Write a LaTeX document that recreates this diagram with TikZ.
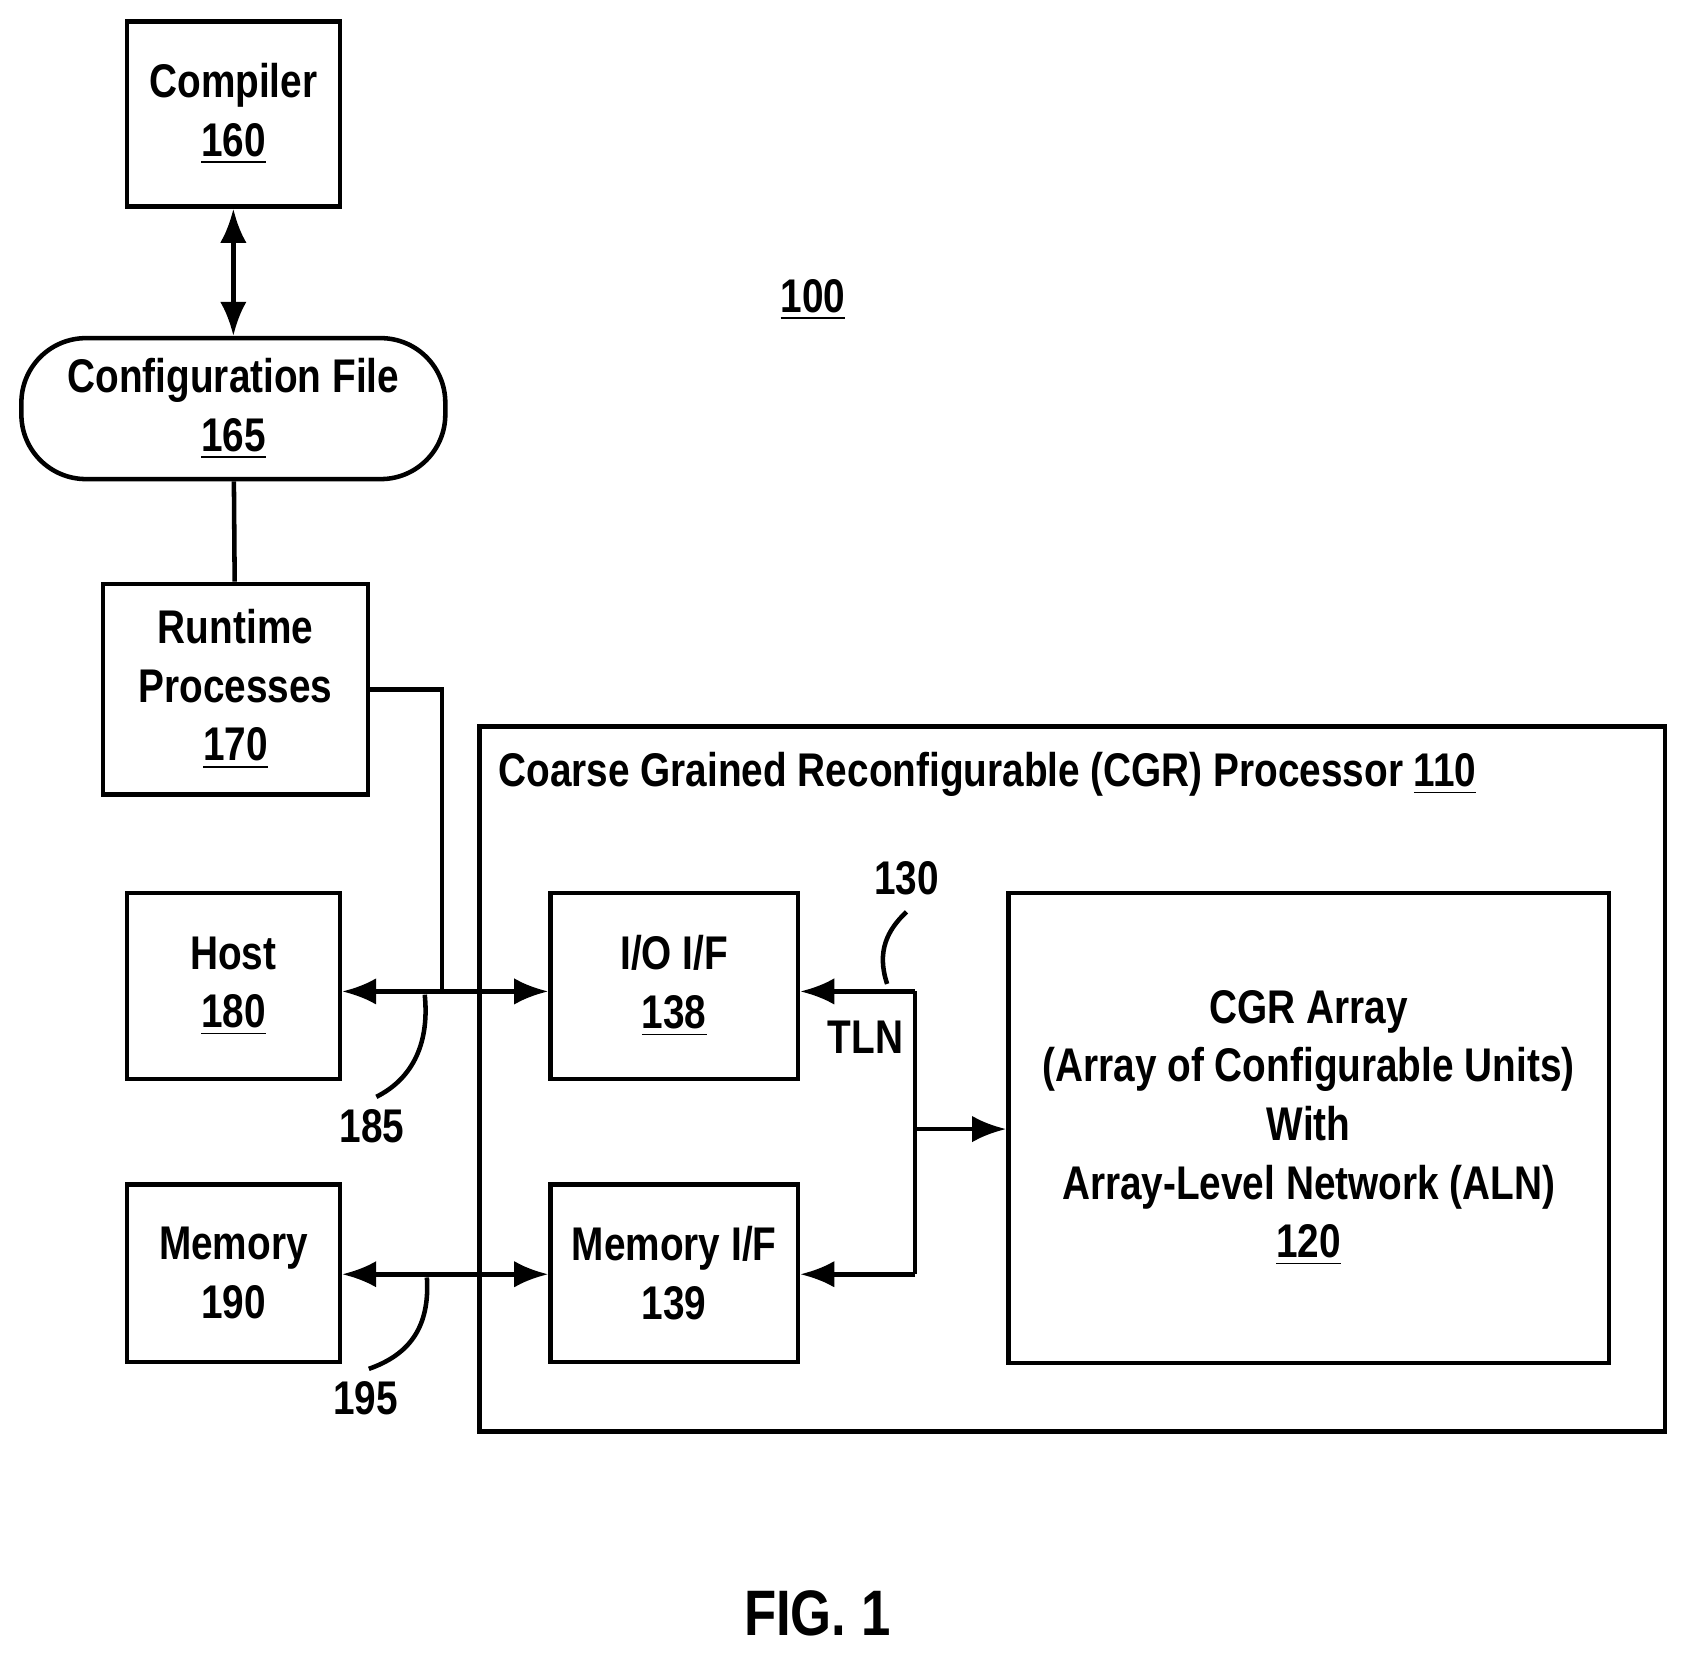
\documentclass[tikz,border=0pt]{standalone}
\usepackage{fontspec}
\setmainfont[FakeStretch=0.82]{Liberation Sans}
\usetikzlibrary{arrows.meta}
\tikzset{
every picture/.style={
line width=1.2pt
}}
\begin{document}
\begin{tikzpicture}[x=0.01cm, y=-0.01cm, >={Latex[length=9pt,width=7pt]},
font=\fontsize{12.5}{15.5}\selectfont\bfseries,
block/.style = {rectangle, draw=black, thick, line width=1.2pt, align=center, inner sep=0pt},
lbl/.style = {inner sep=1pt}]
\useasboundingbox (0,0) rectangle (1567,1540);
\node[block, minimum width=1.98cm, minimum height=1.72cm] at (217,106) (comp) {Compiler\\\underline{160}};
\node[block, rounded corners=0.6cm, minimum width=3.94cm, minimum height=1.31cm] at (217,380) (cfg) {Configuration File\\\underline{165}};
\node[block, minimum width=2.46cm, minimum height=1.96cm] at (219,641) (rt) {Runtime\\Processes\\\underline{170}};
\node[block, minimum width=1.98cm, minimum height=1.73cm] at (217,917) (host) {Host\\\underline{180}};
\node[block, minimum width=1.98cm, minimum height=1.65cm] at (217,1184) (mem) {Memory\\190};
\node[block, minimum width=11.02cm, minimum height=6.55cm] at (997,1003.5) (cgr) {};
\node[lbl, anchor=north west] at (458,694) (cgrlbl) {Coarse Grained Reconfigurable (CGR) Processor \underline{110}};
\node[block, minimum width=2.3cm, minimum height=1.73cm] at (627,917) (io) {I/O I/F\\\underline{138}};
\node[block, minimum width=2.3cm, minimum height=1.65cm] at (627,1184) (memif) {Memory I/F\\139};
\node[block, minimum width=5.58cm, minimum height=4.37cm] at (1217,1049) (arr) {CGR Array\\(Array of Configurable Units)\\With\\Array-Level Network (ALN)\\\underline{120}};

\node[lbl] at (756,279) (sys) {\underline{100}};
\node[lbl] at (843,817) (n130) {130};
\node[lbl] at (805,965) (tln) {TLN};
\node[lbl] at (346,1047) (n185) {185};
\node[lbl] at (340,1300) (n195) {195};
\node[lbl, font=\fontsize{17}{20}\selectfont\bfseries] at (760,1500) (fig) {FIG. 1};

\coordinate (bus) at (411,922);
\coordinate (tlnt) at (851,922);
\coordinate (tlnb) at (851,1185);
\coordinate (tlnm) at (851,1050);

\draw[<->] (comp) -- (cfg);
\draw (cfg) -- (rt);
\draw (rt.east |- 0,641) -| (bus);
\draw[<->] (host.east |- bus) -- (io.west |- bus);
\draw[<->] (mem.east |- 0,1185) -- (memif.west |- 0,1185);
\draw[->] (tlnt) -- (io.east |- tlnt);
\draw[->] (tlnb) -- (memif.east |- tlnb);
\draw (tlnt) -- (tlnb);
\draw[->] (tlnm) -- (arr.west |- tlnm);

\draw (825,915) .. controls (815,885) and (825,865) .. (843,848);
\draw (395,925) .. controls (400,975) and (380,1005) .. (350,1020);
\draw (397,1188) .. controls (400,1235) and (380,1260) .. (343,1273);
\end{tikzpicture}
\end{document}
